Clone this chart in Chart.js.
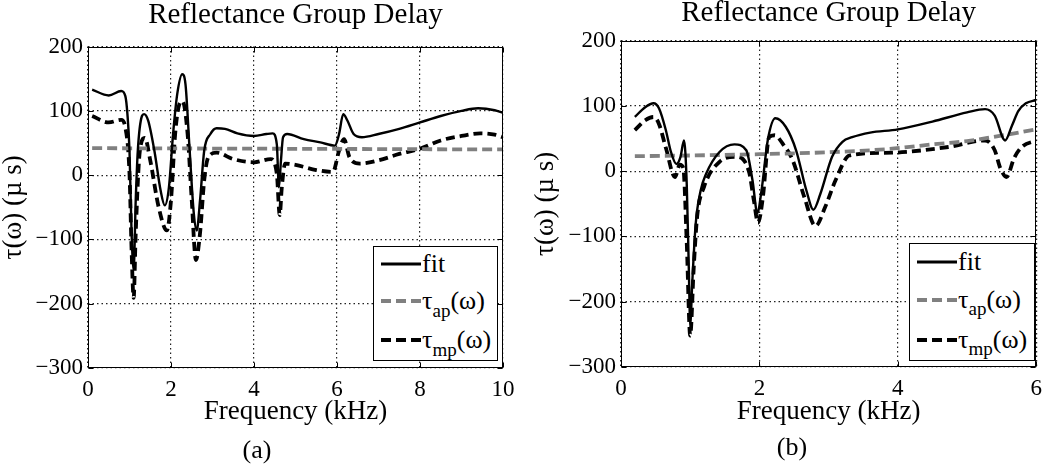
<!DOCTYPE html>
<html>
<head>
<meta charset="utf-8">
<script src="https://cdn.jsdelivr.net/npm/chart.js@4"></script>
<style>
  html, body { margin: 0; padding: 0; background: #fff; }
  #wrap { position: relative; width: 1050px; height: 465px; font-family: 'Liberation Serif', serif; color: #000; }
  .panel { position: absolute; top: 0; width: 525px; height: 465px; }
  .legend { position: absolute; border: 1px solid #000; background: #fff; box-sizing: border-box; }
  .row { height: 37px; display: flex; align-items: center; font-size: 26px; line-height: 1; }
  .row svg { margin: 0 1px 0 7px; flex: none; }
  .row sub { font-size: 19px; position: relative; top: 9px; vertical-align: baseline; }
  .cap { position: absolute; font-size: 26px; transform: translate(-50%, -50%); white-space: nowrap; }
</style>
</head>
<body>
<div id="wrap">
  <div class="panel" style="left:0"><canvas id="chartA"></canvas></div>
  <div class="panel" style="left:525px"><canvas id="chartB"></canvas></div>

  <div class="legend" style="left:373px;top:246px;width:125px;height:115px">
    <div class="row" style="height:34px"><svg width="40" height="6"><line x1="0" y1="3" x2="40" y2="3" stroke="#000" stroke-width="2.8"/></svg>fit</div>
    <div class="row" style="height:40px"><svg width="40" height="6"><line x1="0" y1="3" x2="40" y2="3" stroke="#808080" stroke-width="4" stroke-dasharray="10,5"/></svg>&tau;<sub>ap</sub>(&omega;)</div>
    <div class="row" style="height:38px"><svg width="40" height="6"><line x1="0" y1="3" x2="40" y2="3" stroke="#000" stroke-width="4" stroke-dasharray="10,5"/></svg>&tau;<sub>mp</sub>(&omega;)</div>
  </div>
  <div class="legend" style="left:909px;top:243px;width:126px;height:118px">
    <div class="row" style="height:35px"><svg width="40" height="6"><line x1="0" y1="3" x2="40" y2="3" stroke="#000" stroke-width="2.8"/></svg>fit</div>
    <div class="row" style="height:41px"><svg width="40" height="6"><line x1="0" y1="3" x2="40" y2="3" stroke="#808080" stroke-width="4" stroke-dasharray="10,5"/></svg>&tau;<sub>ap</sub>(&omega;)</div>
    <div class="row" style="height:39px"><svg width="40" height="6"><line x1="0" y1="3" x2="40" y2="3" stroke="#000" stroke-width="4" stroke-dasharray="10,5"/></svg>&tau;<sub>mp</sub>(&omega;)</div>
  </div>

  <div class="cap" style="left:257px;top:450px">(a)</div>
  <div class="cap" style="left:792px;top:447px">(b)</div>
</div>

<script>
// panel (a) - frequency in kHz, delay in microseconds
const aFitX = [0.1,0.5,0.8,0.9,0.95,1.0,1.05,1.1,1.15,1.2,1.3,1.35,1.45,1.6,1.75,1.85,1.95,2.05,2.15,2.27,2.35,2.45,2.55,2.62,2.7,2.8,2.95,3.1,3.3,3.6,4.0,4.3,4.45,4.55,4.6,4.65,4.7,4.8,5.2,5.6,5.95,6.05,6.15,6.25,6.4,6.6,7.0,7.5,8.0,8.5,9.0,9.4,9.8,10];
const aFitY = [133,124,131,123,95,38,-90,-147,-39,38,92,95,85,38,-24,-47,-19,64,126,157,141,38,-60,-86,-39,38,64,73,72,65,61,64,65,48,-19,23,59,64,56,51,46,64,95,85,64,59,64,72,82,92,100,104,101,97];
const aApX = [0.1,5,10];
const aApY = [42,41,40];
const aMpX = [0.1,0.5,0.8,0.9,1.0,1.05,1.1,1.15,1.25,1.37,1.5,1.7,1.9,2.0,2.1,2.2,2.28,2.4,2.5,2.6,2.7,2.8,2.9,3.1,3.5,4.0,4.4,4.55,4.62,4.67,4.75,5.0,5.5,5.9,6.05,6.17,6.3,6.55,7.0,7.5,8.0,8.5,9.0,9.45,9.8,10];
const aMpY = [92,82,86,74,2,-116,-191,-90,38,58,23,-49,-86,-39,64,110,115,64,-39,-132,-90,-8,28,35,25,20,25,2,-62,-19,18,16,8,5,38,56,28,18,23,33,41,54,61,65,63,59];

// panel (b)
const bFitX = [0.2,0.35,0.47,0.55,0.65,0.72,0.8,0.86,0.91,0.95,0.98,1.0,1.03,1.08,1.15,1.23,1.42,1.64,1.81,1.9,1.97,2.03,2.12,2.23,2.38,2.53,2.68,2.78,2.88,3.05,3.2,3.34,3.6,4.0,4.5,5.0,5.26,5.4,5.55,5.65,5.74,5.85,6.0];
const bFitY = [83,98,104,96,62,30,11,22,47,-20,-150,-235,-170,-80,-30,-4,29,41,32,-14,-64,-30,47,81,68,32,-30,-59,-35,22,45,52,59,64,76,90,95,85,47,70,92,104,109];
const bApX = [0.2,1.0,2.0,3.0,3.87,4.5,5.0,5.36,6.0];
const bApY = [23,24,26,29,34,41,46,52,64];
const bMpX = [0.2,0.35,0.47,0.55,0.65,0.78,0.85,0.9,0.95,1.0,1.05,1.1,1.2,1.42,1.66,1.85,1.92,1.98,2.05,2.14,2.22,2.35,2.48,2.65,2.81,2.95,3.1,3.3,3.8,4.06,4.73,5.26,5.4,5.48,5.57,5.68,5.79,6.0];
const bMpY = [63,78,83,72,35,-9,10,5,-110,-252,-150,-70,-24,14,22,-1,-45,-79,-40,52,55,40,17,-40,-84,-55,-14,24,28,29,37,47,32,5,-9,20,37,47];

const yTicks = [-300,-200,-100,0,100,200];
const SERIF = "'Liberation Serif', 'Times New Roman', serif";

Chart.defaults.font.family = SERIF;
Chart.defaults.color = '#000';

function pts(xs, ys) {
    return xs.map((x, i) => ({ x: x, y: ys[i] }));
}

// MATLAB style box with small inward ticks
const framePlugin = {
    id: 'frame',
    afterDatasetsDraw(chart) {
        const ctx = chart.ctx;
        const a = chart.chartArea;
        const l = Math.round(a.left) + 0.5, t = Math.round(a.top) + 0.5;
        const r = Math.round(a.right) - 0.5, b = Math.round(a.bottom) - 0.5;
        const tl = 5;
        ctx.save();
        ctx.strokeStyle = '#000';
        ctx.lineWidth = 1;
        ctx.beginPath();
        chart.scales.x.ticks.forEach(tk => {
            const px = Math.round(chart.scales.x.getPixelForValue(tk.value)) + 0.5;
            ctx.moveTo(px, b); ctx.lineTo(px, b - tl);
            ctx.moveTo(px, t); ctx.lineTo(px, t + tl);
        });
        chart.scales.y.ticks.forEach(tk => {
            const py = Math.round(chart.scales.y.getPixelForValue(tk.value)) + 0.5;
            ctx.moveTo(l, py); ctx.lineTo(l + tl, py);
            ctx.moveTo(r, py); ctx.lineTo(r - tl, py);
        });
        ctx.stroke();
        ctx.strokeRect(l, t, r - l, b - t);
        ctx.restore();
    }
};

function makeChart(id, xMax, fit, ap, mp, box) {
    const ctx = document.getElementById(id).getContext('2d');
    return new Chart(ctx, {
        type: 'line',
        data: {
            datasets: [
                { label: 'fit', data: fit, borderColor: '#000', borderWidth: 2.4 },
                { label: 'τap(ω)', data: ap, borderColor: '#808080', borderWidth: 3.8, borderDash: [10, 5] },
                { label: 'τmp(ω)', data: mp, borderColor: '#000', borderWidth: 3.8, borderDash: [9, 5] }
            ]
        },
        options: {
            responsive: true,
            maintainAspectRatio: false,
            animation: false,
            elements: {
                point: { radius: 0 },
                line: { cubicInterpolationMode: 'monotone', fill: false }
            },
            layout: { padding: { top: box.padTop, right: box.padRight, left: 0, bottom: 0 } },
            plugins: {
                legend: { display: false },
                tooltip: { enabled: false },
                title: {
                    display: true,
                    text: 'Reflectance Group Delay',
                    color: '#000',
                    fullSize: false,
                    font: { family: SERIF, size: 29, weight: 'normal', lineHeight: 0.9 },
                    padding: { top: 0, bottom: box.titleGap }
                }
            },
            scales: {
                x: {
                    type: 'linear',
                    min: 0,
                    max: xMax,
                    afterFit: function(scale) { scale.height = box.xHeight; },
                    ticks: {
                        stepSize: 2,
                        color: '#000',
                        padding: 8,
                        maxRotation: 0,
                        font: { family: SERIF, size: 23 }
                    },
                    grid: { color: '#222', lineWidth: 1.2, drawTicks: false },
                    border: { display: false, dash: [1.5, 3] },
                    title: {
                        display: true,
                        text: 'Frequency (kHz)',
                        color: '#000',
                        font: { family: SERIF, size: 27, lineHeight: 1.2 },
                        padding: { top: 0, bottom: 37 }
                    }
                },
                y: {
                    min: -300,
                    max: 200,
                    afterFit: function(scale) { scale.width = box.yWidth; },
                    afterBuildTicks: function(scale) { scale.ticks = yTicks.map(v => ({ value: v })); },
                    ticks: {
                        color: '#000',
                        padding: 5,
                        font: { family: SERIF, size: 23 },
                        callback: v => String(v).replace('-', '\u2212')
                    },
                    grid: { color: '#222', lineWidth: 1.2, drawTicks: false },
                    border: { display: false, dash: [1.5, 3] },
                    title: {
                        display: true,
                        text: 'τ(ω) (µ s)',
                        color: '#000',
                        font: { family: SERIF, size: 27, lineHeight: 1.0 },
                        padding: { top: box.yTitlePad, bottom: 0 }
                    }
                }
            }
        },
        plugins: [framePlugin]
    });
}

makeChart('chartA', 10, pts(aFitX, aFitY), pts(aApX, aApY), pts(aMpX, aMpY),
    { padTop: 2, padRight: 22, titleGap: 18.5, xHeight: 97, yWidth: 88, yTitlePad: 0 });
makeChart('chartB', 6, pts(bFitX, bFitY), pts(bApX, bApY), pts(bMpX, bMpY),
    { padTop: 0, padRight: 12, titleGap: 14.5, xHeight: 98, yWidth: 96, yTitlePad: 7 });
</script>
</body>
</html>
